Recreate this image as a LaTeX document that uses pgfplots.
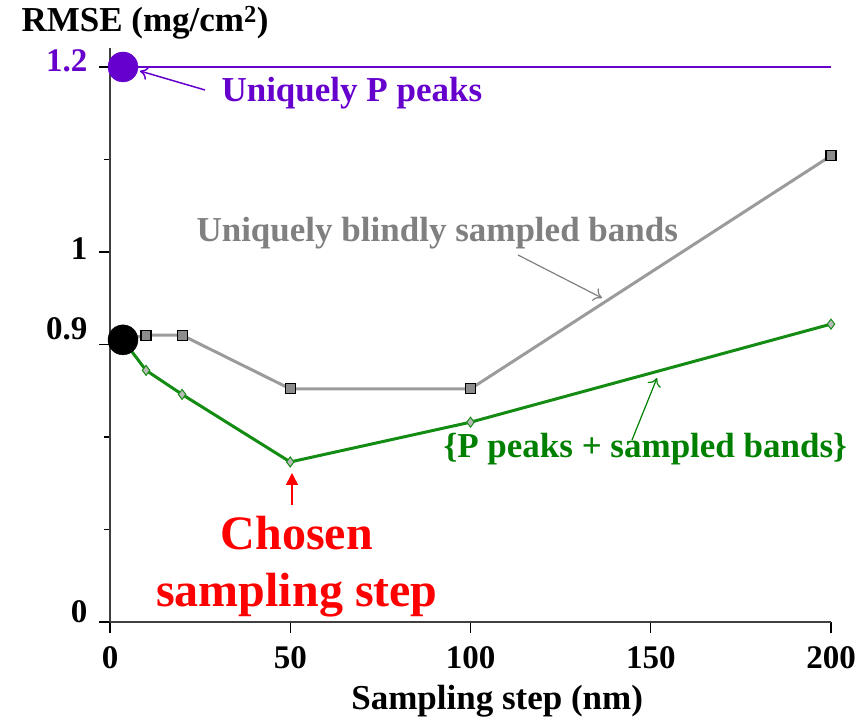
\documentclass[border=0pt]{standalone}
\usepackage{fontspec}
\setmainfont{Liberation Serif}
\usepackage{pgfplots}
\pgfplotsset{compat=1.18}
\usetikzlibrary{arrows.meta}
\definecolor{pviolet}{RGB}{102,0,204}
\definecolor{lgray}{RGB}{155,155,155}
\definecolor{mgray}{RGB}{140,140,140}
\definecolor{tgray}{RGB}{128,128,128}
\definecolor{lgreen}{RGB}{20,140,20}
\definecolor{tgreen}{RGB}{0,128,0}
\definecolor{dfill}{RGB}{185,185,185}
\definecolor{dkaxis}{RGB}{64,64,64}

\newcommand{\ylab}[2]{\raisebox{#1}[0pt][0pt]{#2}}

\begin{document}
\begin{tikzpicture}
\path[use as bounding box] (0,0) rectangle (867pt,720pt);
\begin{axis}[
  at={(110pt,98pt)}, anchor=south west,
  scale only axis, width=721pt, height=574pt,
  xmin=0, xmax=200, ymin=0.6, ymax=1.2205,
  axis lines*=left,
  axis line style={dkaxis, line width=1.5pt},
  xtick={0,50,100,150,200}, xticklabels={0,50,100,150,200},
  ytick={0.6,0.9,1,1.2},
  yticklabels={\ylab{0pt}{0},\ylab{5pt}{0.9},\ylab{-8pt}{1},\ylab{-5pt}{\textcolor{pviolet}{1.2}}},
  minor ytick={0.7,0.8,1.1},
  tick align=outside, major tick length=11pt, minor tick length=6pt,
  tick style={black, line width=1.2pt},
  tick label style={font=\fontsize{33}{36}\selectfont\bfseries},
  xticklabel style={yshift=-10pt},
  yticklabel style={xshift=-8pt},
  xlabel={Sampling step (nm)},
  ylabel={RMSE (mg/cm\textsuperscript{2})},
  every axis x label/.style={at={(axis description cs:0.537,-0.1533)}, anchor=base,
    font=\fontsize{35}{40}\selectfont\bfseries},
  every axis y label/.style={at={(axis description cs:-0.1276,1.0279)}, anchor=base west,
    font=\fontsize{35}{40}\selectfont\bfseries},
  clip=false,
]
% uniquely blindly sampled bands
\addplot[lgray, line width=3pt, mark=square*, mark size=5pt, mark indices={2,3,4,5,6},
  mark options={fill=mgray, draw=black, line width=1.2pt}] coordinates {
(3.6,0.905) (10,0.910) (20,0.910) (50,0.852) (100,0.852) (200,1.104)
};
% P peaks + sampled bands
\addplot[lgreen, line width=3pt, mark=diamond*, mark size=5pt, mark indices={2,3,4,5,6},
  mark options={fill=dfill, draw=lgreen, line width=1pt}] coordinates {
(3.6,0.905) (10,0.872) (20,0.846) (50,0.773) (100,0.816) (200,0.922)
};
% uniquely P peaks
\addplot[pviolet, line width=2.5pt] coordinates {(3.6,1.2) (200,1.2)};
\addplot[only marks, mark=*, mark size=15pt, pviolet] coordinates {(3.6,1.2)};
\addplot[only marks, mark=*, mark size=15pt, black] coordinates {(3.6,0.905)};
\end{axis}

\node[anchor=base west, pviolet, font=\fontsize{35}{40}\selectfont\bfseries] at (218pt,618pt) {Uniquely P peaks};
\draw[pviolet, line width=1.5pt, -{To[length=8pt,width=14pt]}] (205pt,630pt) -- (140pt,649pt);

\node[anchor=base west, tgray, font=\fontsize{35}{40}\selectfont\bfseries] at (193pt,478pt) {Uniquely blindly sampled bands};
\draw[tgray, line width=1.2pt, -{To[length=8pt,width=14pt]}] (518pt,465pt) -- (602pt,422pt);

\node[anchor=base west, tgreen, font=\fontsize{35}{40}\selectfont\bfseries] at (440pt,262pt) {\{P peaks + sampled bands\}};
\draw[tgreen, line width=1.2pt, -{To[length=8pt,width=14pt]}] (632pt,280pt) -- (657pt,342pt);

\node[anchor=base, align=center, red, font=\fontsize{48}{57}\selectfont\bfseries] at (297pt,113pt) {Chosen\\sampling step};
\draw[red, line width=1.5pt, -{Triangle[length=12pt,width=12pt]}] (292pt,215pt) -- (292pt,247pt);
\end{tikzpicture}
\end{document}
